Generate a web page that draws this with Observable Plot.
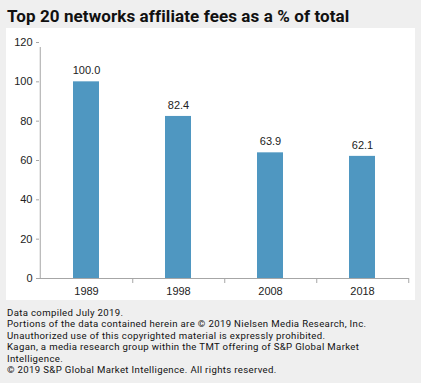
<!DOCTYPE html>
<html><head><meta charset="utf-8">
<script src="https://cdn.jsdelivr.net/npm/d3@7"></script>
<script src="https://cdn.jsdelivr.net/npm/@observablehq/plot@0.6"></script>
<style>
html,body{margin:0;padding:0;background:#efefef;width:421px;height:383px;overflow:hidden}
#title{font-family:Roboto,"Open Sans",sans-serif;font-weight:700;font-size:17px;letter-spacing:0.1px;color:#111;padding:6px 0 0 7px;height:22px;line-height:20px;white-space:nowrap}
#chart{margin-left:6px;width:409px;background:#fff}
#chart svg{display:block;background:#fff}
#foot{font-family:Roboto,"Liberation Sans",sans-serif;font-size:9.6px;letter-spacing:0.35px;line-height:11.4px;color:#111;padding:7px 0 0 7px;white-space:nowrap}
#foot div{height:11.4px}
</style></head>
<body>
<div id="title">Top 20 networks affiliate fees as a % of total</div>
<div id="chart"></div>
<div id="foot"><div>Data compiled July 2019.</div><div>Portions of the data contained herein are © 2019 Nielsen Media Research, Inc.</div><div>Unauthorized use of this copyrighted material is expressly prohibited.</div><div>Kagan, a media research group within the TMT offering of S&amp;P Global Market</div><div>Intelligence.</div><div>© 2019 S&amp;P Global Market Intelligence. All rights reserved.</div></div>
<script>
const years = ["1989", "1998", "2008", "2018"];
const shares = [100.0, 82.4, 63.9, 62.1];
const yTicks = [0, 20, 40, 60, 80, 100, 120];

const data = years.map((y, i) => ({year: y, value: shares[i]}));
const W = 409, H = 272, ML = 33, MR = 6, MT = 14, MB = 22;
const step = (W - ML - MR) / years.length;
const axisColor = "#a6a6a6";

const chart = Plot.plot({
  width: W, height: H,
  marginLeft: ML, marginRight: MR, marginTop: MT, marginBottom: MB,
  style: {fontFamily: "'Liberation Sans', Arial, sans-serif", fontSize: "11px", color: "#222", background: "#fff"},
  x: {domain: years, paddingInner: 0.72, paddingOuter: 0.36, label: null},
  y: {domain: [0, 120], ticks: yTicks, label: null},
  marks: [
    Plot.barY(data, {x: "year", y: "value", fill: "#4f97c1"}),
    Plot.text(data, {x: "year", y: "value", text: d => d.value.toFixed(1), dy: -11, fill: "#222", fontSize: 11}),
    Plot.ruleY([0], {stroke: axisColor}),
    Plot.ruleX(years, {x: d => d, y1: 0, y2: 0, dx: step / 2, insetBottom: -5, stroke: axisColor}),
    Plot.ruleX(years.slice(0, 1), {x: d => d, y1: 0, y2: 120, dx: -step / 2, insetBottom: -5, stroke: axisColor}),
    Plot.axisY({ticks: yTicks, tickSize: 3, tickPadding: 4, stroke: axisColor, tickFormat: d => d, fill: "#222"}),
    Plot.axisX({tickSize: 0, tickPadding: 9, fill: "#222"})
  ]
});
document.getElementById("chart").append(chart);
</script>
</body></html>
